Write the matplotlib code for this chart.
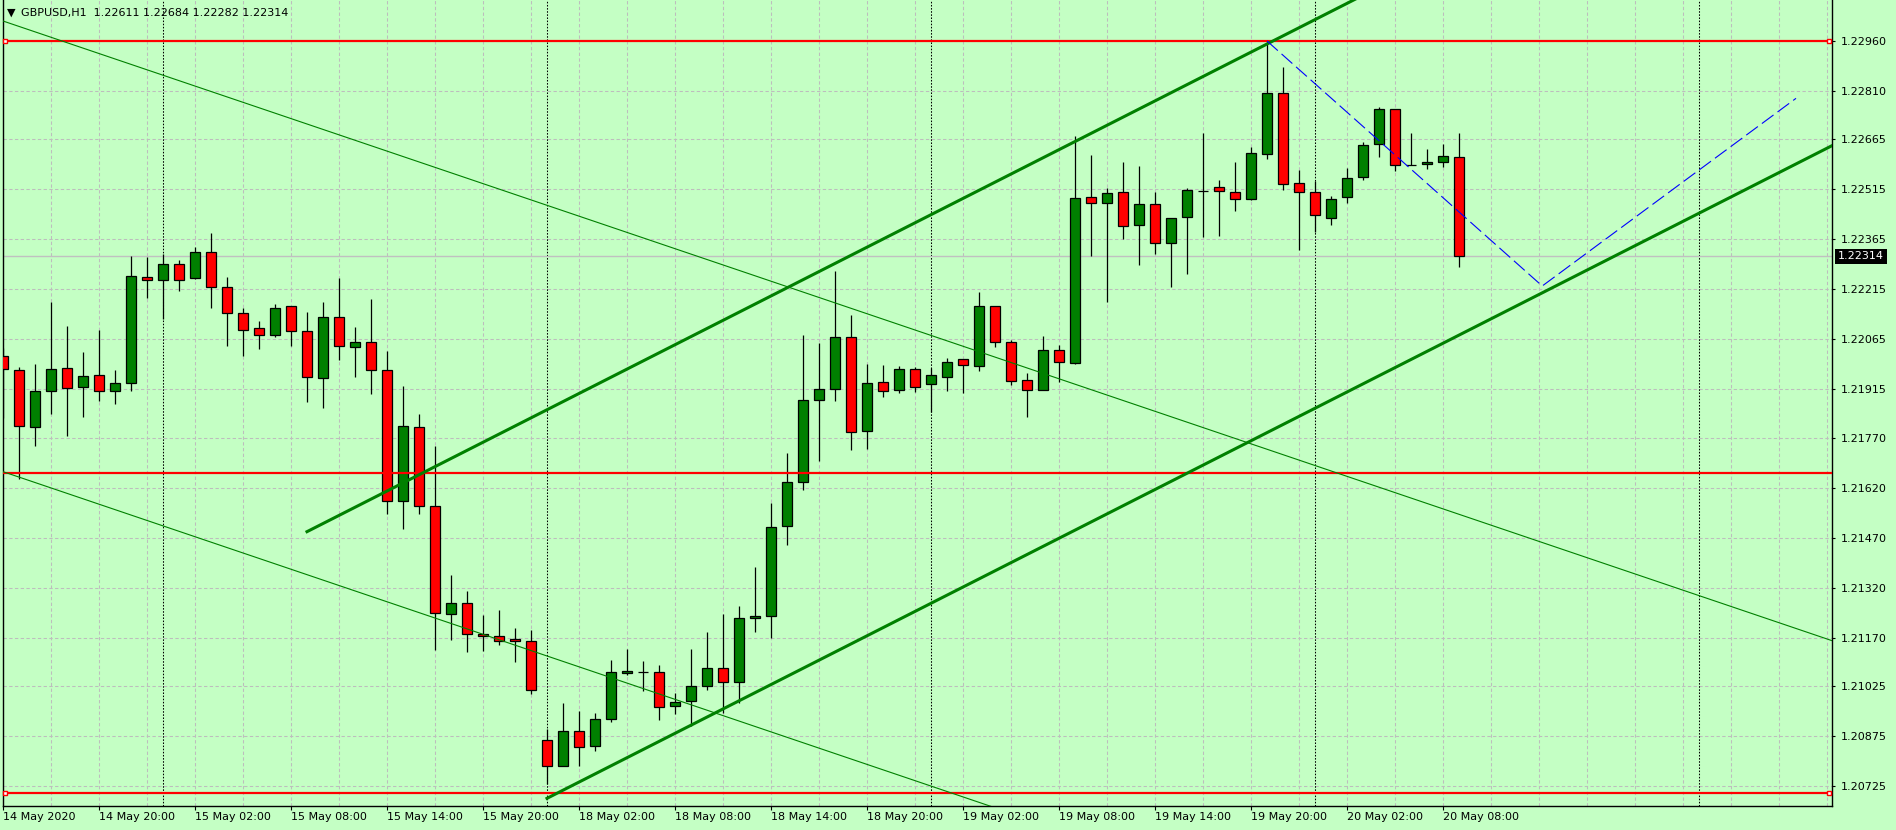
import pandas as pd
import matplotlib.pyplot as plt
from matplotlib.transforms import blended_transform_factory

# hourly GBPUSD bars, 14 May 14:00 -> 20 May 09:00
opens = [1.22015, 1.21972, 1.21801, 1.21909, 1.21978, 1.21921, 1.21957, 1.21909, 1.21933, 1.22251,
         1.22242, 1.22290, 1.22248, 1.22326, 1.22221, 1.22143, 1.22098, 1.22077, 1.22164, 1.22089,
         1.21948, 1.22131, 1.22041, 1.22056, 1.21972, 1.21579, 1.21801, 1.21564, 1.21240, 1.21273,
         1.21180, 1.21174, 1.21165, 1.21159, 1.20862, 1.20784, 1.20889, 1.20844, 1.20925, 1.21063,
         1.21066, 1.21066, 1.20964, 1.20979, 1.21024, 1.21078, 1.21036, 1.21228, 1.21234, 1.21504,
         1.21636, 1.21882, 1.21915, 1.22071, 1.21789, 1.21936, 1.21912, 1.21975, 1.21930, 1.21951,
         1.22005, 1.21984, 1.22164, 1.22056, 1.21942, 1.21912, 1.22032, 1.21993, 1.22491, 1.22473,
         1.22506, 1.22407, 1.22470, 1.22353, 1.22431, 1.22510, 1.22521, 1.22506, 1.22485, 1.22620,
         1.22803, 1.22533, 1.22506, 1.22428, 1.22491, 1.22551, 1.22650, 1.22755, 1.22589, 1.22590,
         1.22596, 1.22611]
highs = [1.22038, 1.21982, 1.21991, 1.22177, 1.22105, 1.22027, 1.22093, 1.21973, 1.22315, 1.22312,
         1.22321, 1.22302, 1.22341, 1.22384, 1.22251, 1.22158, 1.22119, 1.22170, 1.22164, 1.22146,
         1.22176, 1.22248, 1.22102, 1.22185, 1.22030, 1.21925, 1.21841, 1.21745, 1.21358, 1.21310,
         1.21238, 1.21253, 1.21199, 1.21192, 1.20897, 1.20974, 1.20950, 1.20944, 1.21102, 1.21135,
         1.21099, 1.21087, 1.21003, 1.21135, 1.21186, 1.21240, 1.21264, 1.21381, 1.21573, 1.21723,
         1.22078, 1.22054, 1.22270, 1.22137, 1.21991, 1.21988, 1.21984, 1.21981, 1.21978, 1.22008,
         1.22005, 1.22206, 1.22164, 1.22062, 1.21963, 1.22074, 1.22047, 1.22675, 1.22618, 1.22518,
         1.22597, 1.22585, 1.22506, 1.22428, 1.22518, 1.22683, 1.22542, 1.22597, 1.22643, 1.22960,
         1.22882, 1.22572, 1.22539, 1.22494, 1.22578, 1.22656, 1.22761, 1.22755, 1.22683, 1.22635,
         1.22650, 1.22684]
lows = [1.21828, 1.21645, 1.21746, 1.21842, 1.21776, 1.21833, 1.21881, 1.21872, 1.21911, 1.22190,
        1.22127, 1.22211, 1.22245, 1.22160, 1.22046, 1.22016, 1.22037, 1.22071, 1.22046, 1.21878,
        1.21860, 1.22004, 1.21953, 1.21902, 1.21540, 1.21497, 1.21542, 1.21134, 1.21164, 1.21128,
        1.21131, 1.21149, 1.21098, 1.21000, 1.20730, 1.20784, 1.20784, 1.20829, 1.20916, 1.21057,
        1.21009, 1.20922, 1.20940, 1.20904, 1.21012, 1.20943, 1.20973, 1.21186, 1.21168, 1.21447,
        1.21612, 1.21701, 1.21881, 1.21732, 1.21735, 1.21891, 1.21903, 1.21908, 1.21846, 1.21909,
        1.21905, 1.21969, 1.22041, 1.21927, 1.21831, 1.21912, 1.21936, 1.21990, 1.22316, 1.22177,
        1.22367, 1.22289, 1.22322, 1.22223, 1.22262, 1.22373, 1.22376, 1.22451, 1.22482, 1.22605,
        1.22512, 1.22334, 1.22386, 1.22407, 1.22473, 1.22542, 1.22611, 1.22569, 1.22587, 1.22575,
        1.22581, 1.22282]
closes = [1.21975, 1.21804, 1.21909, 1.21975, 1.21918, 1.21954, 1.21909, 1.21933, 1.22254, 1.22242,
          1.22290, 1.22242, 1.22326, 1.22221, 1.22143, 1.22092, 1.22077, 1.22158, 1.22089, 1.21951,
          1.22131, 1.22044, 1.22056, 1.21972, 1.21579, 1.21804, 1.21564, 1.21243, 1.21273, 1.21180,
          1.21174, 1.21159, 1.21159, 1.21012, 1.20784, 1.20889, 1.20841, 1.20925, 1.21066, 1.21069,
          1.21066, 1.20961, 1.20976, 1.21024, 1.21078, 1.21036, 1.21228, 1.21234, 1.21501, 1.21636,
          1.21882, 1.21915, 1.22071, 1.21786, 1.21933, 1.21909, 1.21975, 1.21921, 1.21957, 1.21996,
          1.21987, 1.22164, 1.22056, 1.21939, 1.21912, 1.22032, 1.21996, 1.22488, 1.22473, 1.22503,
          1.22404, 1.22470, 1.22353, 1.22428, 1.22512, 1.22510, 1.22509, 1.22485, 1.22623, 1.22803,
          1.22530, 1.22506, 1.22437, 1.22485, 1.22548, 1.22647, 1.22755, 1.22587, 1.22587, 1.22596,
          1.22614, 1.22314]

price_ticks = [1.22960, 1.22810, 1.22665, 1.22515, 1.22365, 1.22215, 1.22065, 1.21915,
               1.21770, 1.21620, 1.21470, 1.21320, 1.21170, 1.21025, 1.20875, 1.20725]

# chart objects (bar index, price)
red_levels = [1.22960, 1.21665, 1.20705]
thin_upper = ([0, 114.31], [1.23020, 1.21161])
thin_lower = ([0, 114.31], [1.21668, 1.19809])
thick_upper = ([19, 114.31], [1.21488, 1.23812])
thick_lower = ([34, 114.31], [1.20688, 1.22646])
blue_path = ([79, 96.2, 112.06], [1.22960, 1.22225, 1.22788])

t1 = pd.date_range("2020-05-14 14:00", "2020-05-15 23:00", freq="h")
t2 = pd.date_range("2020-05-18 00:00", periods=len(opens) - len(t1), freq="h")
times = list(t1) + list(t2)

bg = "#C4FFC4"
bull = "#008000"
bear = "#FF0000"

fig = plt.figure(figsize=(18.96, 8.30), dpi=100, facecolor=bg)
ax = fig.add_axes([3 / 1896, 24 / 830, 1829 / 1896, 806 / 830], facecolor=bg)
xmax = 114.31
ax.set_xlim(0, xmax)
ax.set_ylim(1.20665, 1.23083)

# grid
for p in price_ticks:
    ax.axhline(p, color="#BDBDBD", lw=0.75, ls=(0, (3.2, 2.3)), zorder=0)
for i in range(3, int(xmax) + 1, 3):
    ax.axvline(i, color="#BDBDBD", lw=0.75, ls=(0, (3.2, 2.3)), zorder=0)

# day separators
seps = [i for i, t in enumerate(times) if t.hour == 0]
seps.append(seps[-1] + 24)
for i in seps:
    ax.axvline(i, color="black", lw=0.75, ls=(0, (1.5, 1.5)), zorder=0.5)

# current price line
last = closes[-1]
ax.axhline(last, color="#C0C0C0", lw=1.0, zorder=0.6)

# candles
idx = list(range(len(opens)))
ax.vlines(idx, lows, highs, color="black", lw=0.9, zorder=2)
bottoms = [min(o, c) for o, c in zip(opens, closes)]
heights = [max(abs(c - o), 0.000012) for o, c in zip(opens, closes)]
colors = [bull if c > o else bear for o, c in zip(opens, closes)]
ax.bar(idx, heights, bottom=bottoms, width=0.6, color=colors,
       edgecolor="black", linewidth=0.9, zorder=3)

# objects
for lvl in red_levels:
    ax.axhline(lvl, color=bear, lw=1.6, zorder=4)
for lvl in (red_levels[0], red_levels[2]):
    ax.plot([0.13, xmax - 0.19], [lvl, lvl], ls="none", marker="s", ms=3.5,
            mfc="white", mec=bear, mew=1.0, zorder=5, clip_on=False)
ax.plot(*thin_upper, color=bull, lw=0.8, zorder=4)
ax.plot(*thin_lower, color=bull, lw=0.8, zorder=4)
ax.plot(*thick_upper, color=bull, lw=2.2, zorder=4)
ax.plot(*thick_lower, color=bull, lw=2.2, zorder=4)
ax.plot(*blue_path, color="#0000FF", lw=0.8, ls=(0, (13, 4.5)), zorder=4)

# axes look
ax.spines["top"].set_visible(False)
for s in ("left", "right", "bottom"):
    ax.spines[s].set_linewidth(1.0)
ax.yaxis.tick_right()
ax.set_yticks(price_ticks)
ax.set_yticklabels([f"{p:.5f}" for p in price_ticks])
ax.tick_params(axis="y", direction="out", length=2.5, width=0.8, pad=3.5, labelsize=8)

xt = list(range(0, len(opens), 6))
xl = [times[0].strftime("%d %b %Y")] + [times[i].strftime("%d %b %H:%M") for i in xt[1:]]
ax.set_xticks(xt)
ax.set_xticklabels(xl)
ax.tick_params(axis="x", direction="out", length=3, width=0.8, pad=1, labelsize=8)
plt.setp(ax.get_xticklabels(), ha="left")

tr = blended_transform_factory(ax.transAxes, ax.transData)
ax.text(1 + 6 / 1829, last, f"{last:.5f}", transform=tr, ha="left", va="center",
        fontsize=8, color="white",
        bbox=dict(boxstyle="square,pad=0.25", fc="black", ec="none"))

title = "GBPUSD,H1  " + " ".join(f"{v:.5f}" for v in (opens[-1], highs[-1], lows[-1], closes[-1]))
fig.text(11 / 1896, 1 - 13 / 830, "\u25BC", fontsize=8, ha="center", va="center")
fig.text(21 / 1896, 1 - 13 / 830, title, fontsize=8, ha="left", va="center")

fig.savefig("out.png", dpi=100, facecolor=bg)
